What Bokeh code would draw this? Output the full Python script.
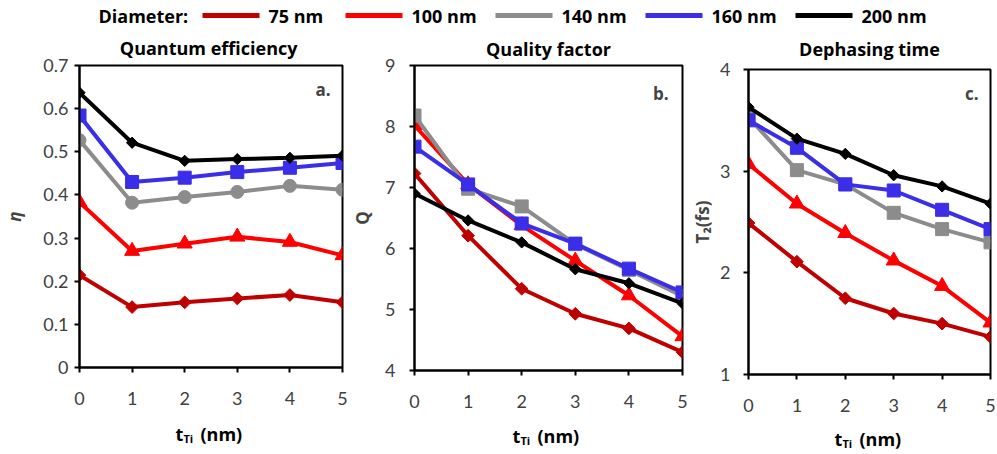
import math
from bokeh.plotting import figure
from bokeh.models import Range1d, FixedTicker, LinearAxis, Label
from bokeh.layouts import column, row
from bokeh.embed import file_html
from bokeh.resources import INLINE

# ---------------- data ----------------
thickness = [0, 1, 2, 3, 4, 5]
diameters = ["75 nm", "100 nm", "140 nm", "160 nm", "200 nm"]
colors = ["#C00000", "#FF0000", "#8C8C8C", "#3A2EE8", "#000000"]

eta_75 = [0.214, 0.140, 0.151, 0.160, 0.168, 0.151]
eta_100 = [0.383, 0.270, 0.287, 0.303, 0.291, 0.260]
eta_140 = [0.527, 0.382, 0.395, 0.407, 0.421, 0.412]
eta_160 = [0.584, 0.430, 0.440, 0.453, 0.463, 0.474]
eta_200 = [0.637, 0.521, 0.479, 0.483, 0.486, 0.491]

q_75 = [7.23, 6.21, 5.34, 4.93, 4.69, 4.30]
q_100 = [8.02, 7.05, 6.38, 5.80, 5.23, 4.56]
q_140 = [8.18, 6.98, 6.69, 6.07, 5.65, 5.22]
q_160 = [7.67, 7.05, 6.41, 6.08, 5.67, 5.28]
q_200 = [6.90, 6.46, 6.10, 5.66, 5.43, 5.10]

t2_75 = [2.49, 2.11, 1.75, 1.60, 1.50, 1.37]
t2_100 = [3.07, 2.68, 2.39, 2.12, 1.87, 1.51]
t2_140 = [3.53, 3.01, 2.87, 2.59, 2.43, 2.30]
t2_160 = [3.50, 3.23, 2.87, 2.81, 2.62, 2.43]
t2_200 = [3.63, 3.32, 3.17, 2.96, 2.85, 2.68]

eta_ticks = [0, 0.1, 0.2, 0.3, 0.4, 0.5, 0.6, 0.7]
q_ticks = [4, 5, 6, 7, 8, 9]
t2_ticks = [1, 2, 3, 4]
x_ticks = [0, 1, 2, 3, 4, 5]

panel_titles = ["Quantum  efficiency", "Quality factor", "Dephasing time"]
panel_tags = ["a.", "b.", "c."]
legend_title = "Diameter:"

FONT = "Lato"
BFONT = "Open Sans"
TICK_COLOR = "#404040"

# (marker, size, angle)
DIAMOND = ("square", 9, math.pi / 4)
TRI = ("triangle", 15, 0)
SQ = ("square", 13, 0)
CIRC = ("circle", 13, 0)
BDIAMOND = ("square", 8, math.pi / 4)

TOP_H = 30
BOT_H = 33
PANEL_H = 454 - TOP_H - BOT_H


def make_panel(title, series, markers, yr, yticks, ylabel, ylabel_style,
               tag, width, bl, br, bt, bb, ytick_standoff, ylab_standoff,
               tag_off, title_standoff):
    p = figure(width=width, height=PANEL_H, x_range=Range1d(0, 5),
               y_range=Range1d(*yr), output_backend="svg",
               toolbar_location=None, min_border_left=bl, min_border_right=br,
               min_border_top=bt, min_border_bottom=bb)
    p.frame_align = False
    p.grid.visible = False
    p.outline_line_color = "black"
    p.outline_line_width = 2
    p.outline_line_alpha = 1
    for ax in (p.xaxis[0], p.yaxis[0]):
        ax.axis_line_width = 2
        ax.axis_line_color = "black"
        ax.major_tick_line_width = 2
        ax.major_tick_line_color = "black"
        ax.major_tick_out = 5
        ax.major_tick_in = 0
        ax.minor_tick_line_color = None
        ax.major_label_text_font = FONT
        ax.major_label_text_font_size = "18px"
        ax.major_label_text_color = TICK_COLOR
    p.xaxis.ticker = FixedTicker(ticks=x_ticks)
    p.xaxis.major_label_standoff = 19
    p.yaxis.ticker = FixedTicker(ticks=yticks)
    p.yaxis.major_label_standoff = ytick_standoff
    p.yaxis.axis_label = ylabel
    p.yaxis.axis_label_text_font = BFONT
    p.yaxis.axis_label_text_font_style = ylabel_style
    p.yaxis.axis_label_text_font_size = "17px"
    p.yaxis.axis_label_standoff = ylab_standoff

    # panel title as the label of a bare axis above the frame
    tax = LinearAxis(ticker=FixedTicker(ticks=[]), axis_label=title,
                     axis_line_color=None, major_tick_line_color=None,
                     minor_tick_line_color=None, major_tick_out=0,
                     major_tick_in=0, minor_tick_out=0, minor_tick_in=0,
                     major_label_standoff=0, major_label_text_font_size="0px",
                     axis_label_standoff=title_standoff, axis_label_text_font=BFONT,
                     axis_label_text_font_style="bold",
                     axis_label_text_font_size="18px",
                     axis_label_text_color="black")
    p.add_layout(tax, "above")

    for ys, col, (mk, sz, ang) in zip(series, colors, markers):
        p.line(thickness, ys, line_color=col, line_width=4)
        p.scatter(thickness, ys, marker=mk, size=sz, angle=ang,
                  fill_color=col, line_color=col, line_width=1)

    p.add_layout(Label(x=5, y=yr[1], x_offset=tag_off[0], y_offset=tag_off[1],
                       text=tag, text_align="right", text_baseline="middle",
                       text_font=BFONT, text_font_style="bold",
                       text_font_size="17px"))
    return p


pa = make_panel(panel_titles[0], [eta_75, eta_100, eta_140, eta_160, eta_200],
                [DIAMOND, TRI, CIRC, SQ, BDIAMOND],
                (0, 0.7), eta_ticks, "\u03b7", "bold italic", panel_tags[0],
                348, 78, 6, 35, 54, 6, 14, (-12, -24), 6)
pb = make_panel(panel_titles[1], [q_75, q_100, q_140, q_160, q_200],
                [DIAMOND, TRI, SQ, SQ, BDIAMOND],
                (4, 9), q_ticks, "Q", "bold", panel_tags[1],
                340, 64, 6, 35, 51, 14, 8, (-14, -28), 5)
pc = make_panel(panel_titles[2], [t2_75, t2_100, t2_140, t2_160, t2_200],
                [DIAMOND, TRI, SQ, SQ, BDIAMOND],
                (1, 4), t2_ticks, "T\u2082(fs)", "bold", panel_tags[2],
                309, 60, 7, 39, 47, 13, 3, (-12, -24), 9)

# frame centres (screen px) of the three panels, for strip texts
centers = [210, 547, 869]


def strip(h):
    s = figure(width=997, height=h, x_range=Range1d(0, 997), y_range=Range1d(0, h),
               output_backend="svg", toolbar_location=None, min_border=0)
    s.frame_align = False
    s.axis.visible = False
    s.grid.visible = False
    s.outline_line_color = None
    return s


# ---------------- top strip: legend ----------------
top = strip(TOP_H)
leg_y = TOP_H - 15
leg_start = [202, 345, 495, 645, 795]
seg_len = 57
top.segment(x0=leg_start, y0=[leg_y] * 5, x1=[s + seg_len for s in leg_start],
            y1=[leg_y] * 5, line_color=colors, line_width=5)
top.text(x=[s + seg_len + 9 for s in leg_start], y=[leg_y] * 5, text=diameters,
         text_baseline="middle", text_align="left", text_font_size="18px",
         text_font_style="bold", text_font={"value": BFONT})
top.text(x=[98], y=[leg_y], text=[legend_title], text_baseline="middle",
         text_align="left", text_font_size="18px", text_font_style="bold",
         text_font={"value": BFONT})

# ---------------- bottom strip: x-axis labels t_Ti (nm) ----------------
bot = strip(BOT_H)
xl_y = [454 - 433, 454 - 435, 454 - 438]
bot.text(x=[c - 35 for c in centers], y=xl_y, text=["t"] * 3,
         text_baseline="middle", text_align="left", text_font_size="18px",
         text_font_style="bold", text_font={"value": BFONT})
bot.text(x=[c - 27 for c in centers], y=[v - 5 for v in xl_y], text=["Ti"] * 3,
         text_baseline="middle", text_align="left", text_font_size="11px",
         text_font_style="bold", text_font={"value": BFONT})
bot.text(x=[c - 10 for c in centers], y=xl_y, text=["(nm)"] * 3,
         text_baseline="middle", text_align="left", text_font_size="18px",
         text_font_style="bold", text_font={"value": BFONT})

layout = column(top, row(pa, pb, pc, spacing=0), bot, spacing=0)
open("out.html", "w").write(file_html(layout, INLINE))
